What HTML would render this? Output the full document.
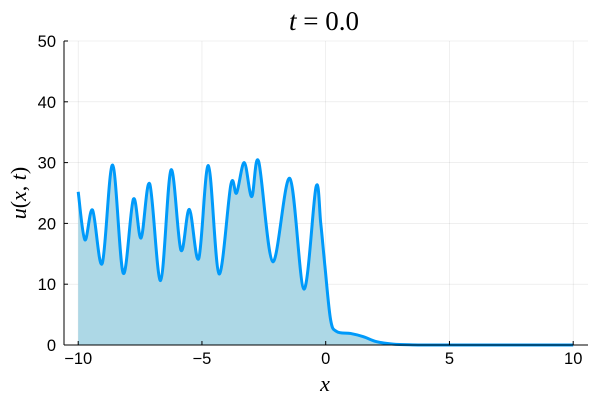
<!DOCTYPE html>
<html><head><meta charset="utf-8"><style>
body{margin:0;background:#fff}
svg text{font-family:"Liberation Sans",sans-serif}
.m{font-family:"Liberation Serif","DejaVu Serif",serif}
</style></head><body>
<svg id="c" width="600" height="400">
<g id="grid"></g><g id="series"></g><g id="axes"></g>
<text class="m" x="324" y="30" text-anchor="middle" font-size="27"><tspan font-style="italic">t</tspan> = 0.0</text>
<text class="m" x="325" y="391" text-anchor="middle" font-size="22" font-style="italic">x</text>
<text class="m" transform="translate(26,193) rotate(-90)" text-anchor="middle" font-size="22"><tspan font-style="italic">u</tspan>(<tspan font-style="italic">x</tspan>, <tspan font-style="italic">t</tspan>)</text>
</svg>
<script>
const xs=[-10,-9.73,-9.42,-9.03,-8.61,-8.18,-7.77,-7.46,-7.11,-6.67,-6.25,-5.85,-5.51,-5.13,-4.74,-4.31,-3.83,-3.6,-3.29,-2.99,-2.71,-2.14,-1.45,-0.88,-0.39,-0.2,-0.03,0.2,0.45,1.0,1.52,2.06,2.72,3.5,4.5,6,8,10];
const us=[25.2,17.3,22.2,13.4,29.6,11.8,24,17.6,26.5,10.6,28.8,15.6,22.3,14.2,29.5,11.7,26.4,25,30,24.4,30.2,13.7,27.4,9.2,26,20,12.9,4.1,2.2,1.9,1.37,0.55,0.15,0.03,0,0,0,0];
const xTicks=[-10,-5,0,5,10];
const yTicks=[0,10,20,30,40,50];
const X=v=>325.7+v*24.75, Y=v=>345-v*6.08;
const ns="http://www.w3.org/2000/svg";
function mk(t,a,p){const e=document.createElementNS(ns,t);for(const k in a)e.setAttribute(k,a[k]);p.appendChild(e);return e;}
const g=document.getElementById('grid'),ax=document.getElementById('axes'),s=document.getElementById('series');
xTicks.forEach(t=>{const l=mk('line',{x1:X(t),x2:X(t),y1:41,y2:345,stroke:'#000','stroke-opacity':0.1,'stroke-width':0.6},g);

const k=mk('line',{x1:X(t),x2:X(t),y1:345,y2:341,stroke:'#000','stroke-width':1},ax);

const tx=mk('text',{x:X(t),y:364,'text-anchor':'middle','font-size':16.5},ax);tx.textContent=t<0?'\u2212'+(-t):t;
});
yTicks.forEach(t=>{const l=mk('line',{x1:64,x2:588,y1:Y(t),y2:Y(t),stroke:'#000','stroke-opacity':0.1,'stroke-width':0.6},g);

const k=mk('line',{x1:64,x2:68,y1:Y(t),y2:Y(t),stroke:'#000','stroke-width':1},ax);

const tx=mk('text',{x:56,y:Y(t)+6,'text-anchor':'end','font-size':16.5},ax);tx.textContent=t;
});
const a1=mk('line',{x1:64,x2:64,y1:41,y2:345,stroke:'#000','stroke-width':1},ax);

const a2=mk('line',{x1:64,x2:588,y1:345,y2:345,stroke:'#000','stroke-width':1},ax);

const P=xs.map((x,i)=>[X(x),Y(us[i])]);
let d='M'+P[0][0]+','+P[0][1];
for(let i=0;i<P.length-1;i++){const p0=P[Math.max(0,i-1)],p1=P[i],p2=P[i+1],p3=P[Math.min(P.length-1,i+2)];
const c1=[p1[0]+(p2[0]-p0[0])/6,p1[1]+(p2[1]-p0[1])/6],c2=[p2[0]-(p3[0]-p1[0])/6,p2[1]-(p3[1]-p1[1])/6];
c1[1]=Math.min(c1[1],345);c2[1]=Math.min(c2[1],345);
d+=`C${c1[0]},${c1[1]} ${c2[0]},${c2[1]} ${p2[0]},${p2[1]}`;}
const f=mk('path',{d:d+`L${X(xs[xs.length-1])},345L${X(xs[0])},345Z`,fill:'#ADD8E6'},s);

const ln=mk('path',{d:d,fill:'none',stroke:'#009AFA','stroke-width':3,'stroke-linejoin':'round'},s);

</script></body></html>
